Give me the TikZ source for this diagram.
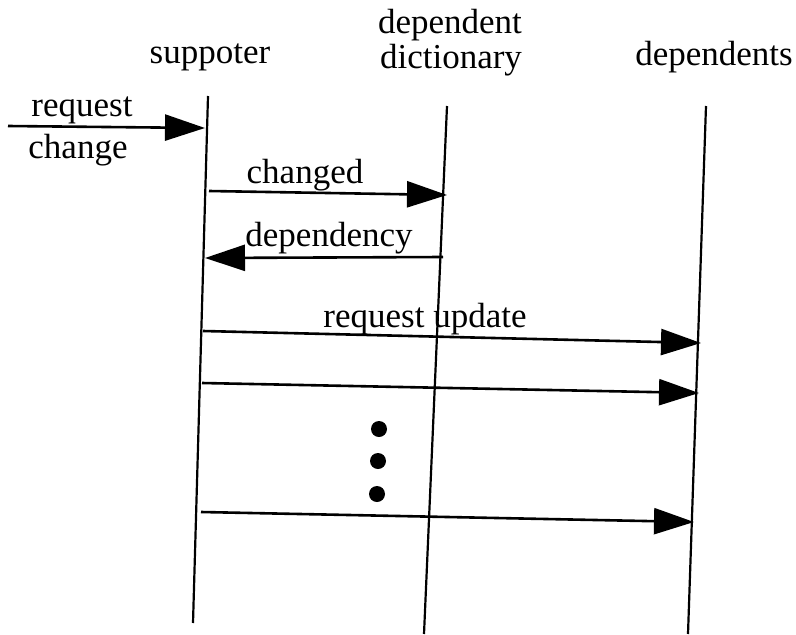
\documentclass[tikz,border=0pt]{standalone}
\usepackage{fontspec}
\newfontfamily\tmsfont{Liberation Serif}
\usetikzlibrary{arrows.meta}
\begin{document}
\begin{tikzpicture}[x=1pt,y=-1pt,
  lifeline/.style={line width=2.2pt},
  msg/.style={line width=2.6pt,-{Triangle[length=40pt,width=26pt]}},
  lbl/.style={font=\tmsfont\fontsize{35}{38}\selectfont,inner sep=0pt,anchor=base},
  dotmark/.style={circle,fill=black,inner sep=0pt,minimum width=14pt,minimum height=16pt}]
\useasboundingbox (0,0) rectangle (796,635);
% headers
\node[lbl] (hsup) at (210,63) {suppoter};
\node[lbl] (hdep1) at (450,33) {dependent};
\node[lbl] (hdep2) at (451,68) {dictionary};
\node[lbl] (hdeps) at (714,65) {dependents};
% lifelines
\coordinate (s1) at (208,96);
\coordinate (s2) at (193,623);
\coordinate (d1) at (447,106);
\coordinate (d2) at (424,634);
\coordinate (p1) at (706,106);
\coordinate (p2) at (688,634);
\draw[lifeline] (s1) -- (s2);
\draw[lifeline] (d1) -- (d2);
\draw[lifeline] (p1) -- (p2);
% messages
\coordinate (rc0) at (8,126);
\coordinate (rc1) at (205,128);
\draw[msg] (rc0) -- (rc1);
\node[lbl] (trq) at (82,116) {request};
\node[lbl] (tch) at (78,158) {change};

\coordinate (c0) at (209,191);
\coordinate (c1) at (447,195);
\draw[msg] (c0) -- (c1);
\node[lbl] (tcg) at (305,183) {changed};

\coordinate (dp0) at (443,257);
\coordinate (dp1) at (205,258);
\draw[msg] (dp0) -- (dp1);
\node[lbl] (tdp) at (329,246) {dependency};

\coordinate (u0) at (203,331);
\coordinate (u1) at (701,343);
\draw[msg] (u0) -- (u1);
\node[lbl] (tru) at (425,327) {request update};

\coordinate (v0) at (202,383);
\coordinate (v1) at (699,393);
\draw[msg] (v0) -- (v1);

\coordinate (w0) at (201,512);
\coordinate (w1) at (694,522);
\draw[msg] (w0) -- (w1);

\node[dotmark] (dt1) at (379,429) {};
\node[dotmark] (dt2) at (378,461) {};
\node[dotmark] (dt3) at (377,494) {};
\end{tikzpicture}
\end{document}
